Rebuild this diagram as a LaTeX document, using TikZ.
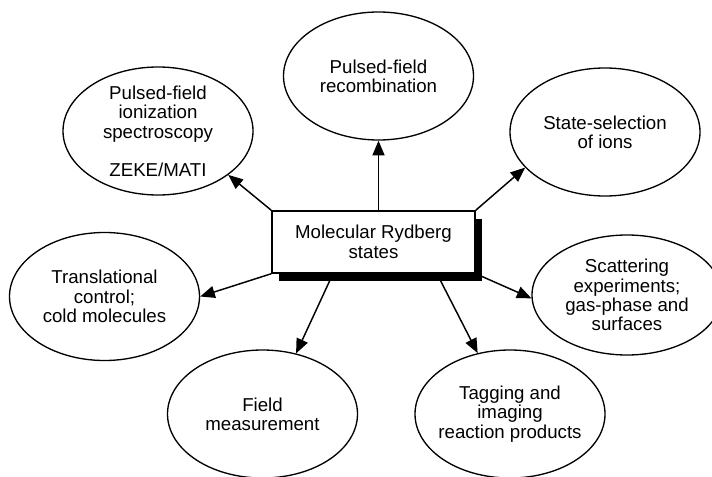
\documentclass[tikz,border=0pt]{standalone}
\usepackage{fontspec}
\setmainfont{Liberation Sans}
\usetikzlibrary{shapes.geometric,arrows.meta,shadows}

\tikzset{
  topic/.style={draw, ellipse, line width=1pt, minimum width=142.5pt, minimum height=96pt,
    inner xsep=-8pt, inner ysep=-3pt, align=center, font=\fontsize{14}{14.5}\selectfont},
  hub/.style={draw, fill=white, line width=1.1pt, minimum width=152.25pt, minimum height=46.5pt,
    align=center, font=\fontsize{14}{15}\selectfont,
    drop shadow={shadow xshift=5.25pt, shadow yshift=-6pt, fill=black, opacity=1}},
  link/.style={line width=1.1pt, -{Triangle[length=11pt,width=9pt]}},
}

\begin{document}
\begin{tikzpicture}[x=0.75pt,y=-0.75pt]
\useasboundingbox (0,0) rectangle (712,477);

% Draw the central box
\node[hub] (states) at (373.5,242) {Molecular Rydberg\\states};

% Draw the topics round it
\node[topic] (recomb) at (378.5,76) {Pulsed-field\\recombination};
\node[topic] (zeke) at (158,131) {Pulsed-field\\ionization\\spectroscopy\\[14pt]ZEKE/MATI};
\node[topic] (select) at (605,132) {State-selection\\of ions};
\node[topic] (cold) at (104.5,296.5) {Translational\\control;\\cold molecules};
\node[topic, minimum height=90pt] (scatter) at (627,295) {Scattering\\experiments;\\gas-phase and\\surfaces};
\node[topic] (field) at (262.5,414) {Field\\measurement};
\node[topic] (tagging) at (510,414) {Tagging and\\imaging\\reaction products};

% Draw the arrows from the box
\draw[link] (recomb.south |- states.north) -- (recomb.south);
\draw[link] (states.north west) -- (zeke.-32);
\draw[link] (states.north east) -- (select.-156);
\draw[link] (states.south west) -- (cold.0);
\draw[link] (states.south east) -- (scatter.182);
\draw[link] ([xshift=-30.4pt]states.south) -- (field.61);
\draw[link] ([xshift=47.6pt]states.south) -- (tagging.118);

\end{tikzpicture}
\end{document}
